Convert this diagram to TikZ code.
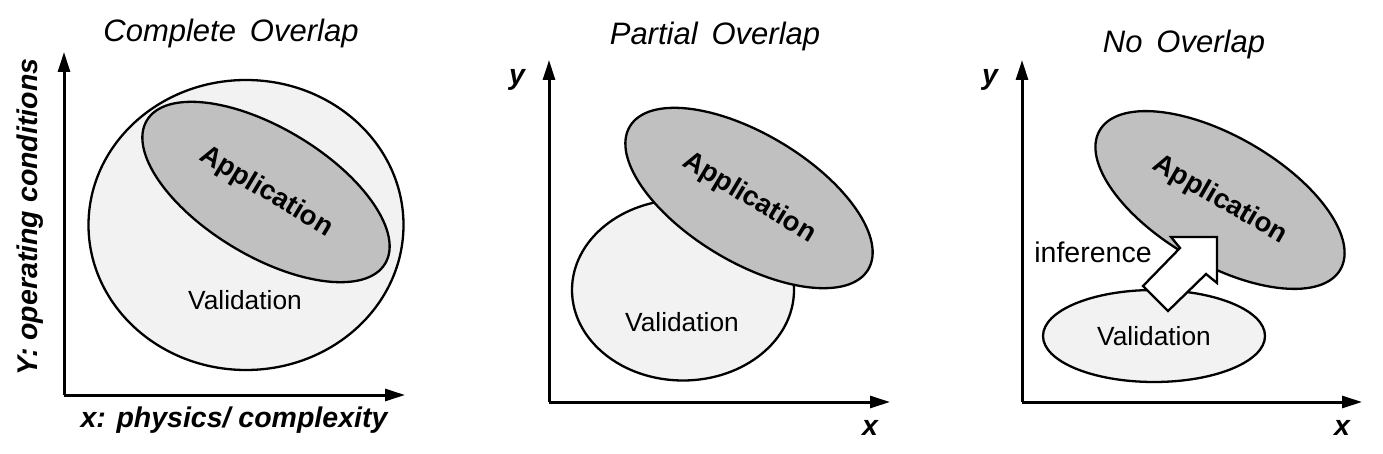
\documentclass[tikz,border=0pt]{standalone}
\usepackage{fontspec}
\setmainfont{Liberation Sans}
\usetikzlibrary{shapes.geometric,arrows.meta}
\definecolor{valgray}{RGB}{242,242,242}
\definecolor{appgray}{RGB}{192,192,192}

\tikzset{
  axis/.style={line width=3pt,-{Triangle[length=20pt,width=12pt]}},
  valid/.style={ellipse,draw,line width=2.3pt,fill=valgray,inner sep=0pt},
  appl/.style={ellipse,draw,line width=2.3pt,fill=appgray,inner sep=0pt,
    minimum width=278pt,minimum height=128pt,
    font=\bfseries\fontsize{27.5}{33}\selectfont},
  vtext/.style={font=\fontsize{26.3}{31}\selectfont},
  title/.style={anchor=base,font=\itshape\fontsize{31}{37}\selectfont},
  lab/.style={font=\bfseries\itshape\fontsize{28.5}{34}\selectfont},
  blockarrow/.style={draw,line width=2.3pt,fill=white,line join=miter}
}

\begin{document}
\begin{tikzpicture}[x=1pt,y=-1pt]
\useasboundingbox (0,0) rectangle (1383,454);

% complete overlap
\node[title] (t1) at (231,42) {Complete\hspace{.45em}Overlap};
\coordinate (o1) at (64,395);
\coordinate (y1) at (64,52);
\coordinate (x1) at (405,395);
\draw[axis] (o1) -- (y1);
\draw[axis] (o1) -- (x1);
\node[lab,rotate=90] (ylab1) at (30,217) {Y: operating conditions};
\node[lab] (xlab1) at (234,420) {x: physics/ complexity};
\node[valid,minimum width=315pt,minimum height=290pt] (val1) at (246,225) {};
\node[appl,rotate=-31] (app1) at (266,192) {Application};
\node[vtext] (vt1) at (245,300) {Validation};

% partial overlap
\node[title] (t2) at (715,45) {Partial\hspace{.45em}Overlap};
\coordinate (o2) at (549,402);
\coordinate (y2) at (549,60);
\coordinate (x2) at (890,402);
\draw[axis] (o2) -- (y2);
\draw[axis] (o2) -- (x2);
\node[lab] (ylab2) at (517,80) {y};
\node[lab] (xlab2) at (870,428) {x};
\node[valid,minimum width=222pt,minimum height=181pt] (val2) at (683,290) {};
\node[vtext] (vt2) at (682,322) {Validation};
\node[appl,rotate=-31] (app2) at (749,198) {Application};

% no overlap
\node[title] (t3) at (1184,53) {No\hspace{.45em}Overlap};
\coordinate (o3) at (1022,402);
\coordinate (y3) at (1022,60);
\coordinate (x3) at (1362,402);
\draw[axis] (o3) -- (y3);
\draw[axis] (o3) -- (x3);
\node[lab] (ylab3) at (990,80) {y};
\node[lab] (xlab3) at (1342,428) {x};
\node[appl,rotate=-30] (app3) at (1220,200) {Application};
\node[valid,vtext,minimum width=222pt,minimum height=92pt] (val3) at (1154,336) {Validation};
\node[font=\fontsize{28.5}{34}\selectfont] (inf) at (1093,252) {inference};
\draw[blockarrow,shift={(1217,237)}] (0,0) -- (-46,0) -- (-37,11) -- (-74,49)
  -- (-49,74) -- (-11,37) -- (0,46) -- cycle;
\end{tikzpicture}
\end{document}
